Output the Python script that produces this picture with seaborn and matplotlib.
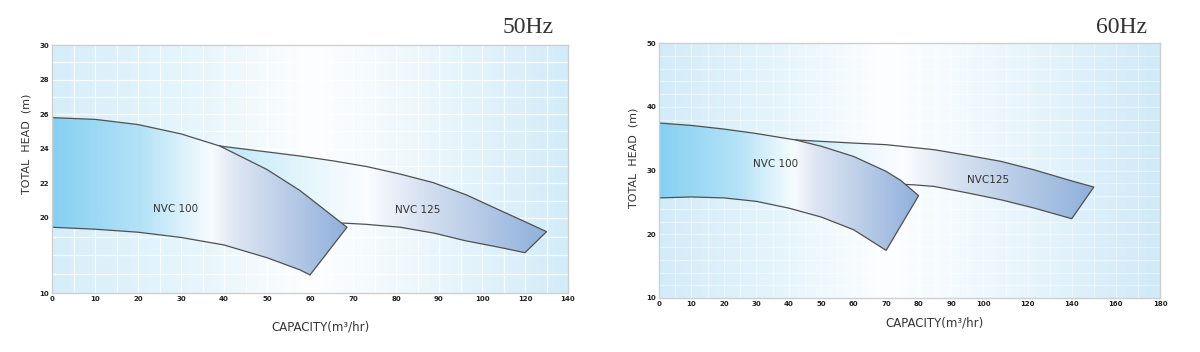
import numpy as np
import matplotlib
matplotlib.use("Agg")
import matplotlib.pyplot as plt
import seaborn as sns
from matplotlib.colors import LinearSegmentedColormap
from matplotlib.ticker import FixedLocator

# ---- data ----
# 50 Hz
hz50_nvc100_top_x = [0, 10, 20, 30, 39, 50, 57.7, 68.6]
hz50_nvc100_top_y = [25.8, 25.7, 25.4, 24.86, 24.16, 22.8, 21.58, 18.76]
hz50_nvc100_bot_x = [0, 10, 20, 30, 40, 50, 57.7, 60]
hz50_nvc100_bot_y = [18.76, 18.5, 18.1, 17.4, 16.4, 14.7, 13.07, 12.4]
hz50_nvc125_top_x = [39, 57.7, 65.4, 73.2, 80.9, 88.7, 96.4, 108, 120, 130]
hz50_nvc125_top_y = [24.16, 23.58, 23.3, 22.97, 22.54, 22.04, 21.33, 20.46, 19.5, 18.17]
hz50_nvc125_bot_x = [66, 73, 81, 89, 96, 108, 120]
hz50_nvc125_bot_y = [19.37, 19.15, 18.76, 17.96, 16.98, 16.09, 15.37]

# 60 Hz
hz60_nvc100_top_x = [0, 10, 20, 30, 42, 50, 60, 70, 74.5, 80]
hz60_nvc100_top_y = [37.45, 37.07, 36.5, 35.8, 34.8, 33.8, 32.2, 29.86, 28.45, 26.05]
hz60_nvc100_bot_x = [0, 10, 20, 30, 40, 50, 60, 70]
hz60_nvc100_bot_y = [25.7, 25.85, 25.7, 25.16, 24.1, 22.7, 20.7, 17.47]
hz60_nvc125_top_x = [42, 50, 60, 70, 84.8, 95.2, 108, 123, 138, 150]
hz60_nvc125_top_y = [34.8, 34.57, 34.3, 34.05, 33.26, 32.37, 31.43, 30.1, 28.56, 27.4]
hz60_nvc125_bot_x = [72, 78.6, 84.8, 95.2, 108, 123, 140]
hz60_nvc125_bot_y = [27.9, 27.75, 27.5, 26.47, 25.4, 24.1, 22.44]

hz50_xticks = [0, 10, 20, 30, 40, 50, 60, 70, 80, 90, 100, 120, 140]
hz50_yticks = [10, 20, 22, 24, 26, 28, 30]
hz60_xticks = [0, 10, 20, 30, 40, 50, 60, 70, 80, 90, 100, 120, 140, 160, 180]
hz60_yticks = [10, 20, 30, 40, 50]

CYAN = "#86d0f2"
LCYAN = "#bde7f9"
BLUE = "#8fb0db"
EDGE = "#505050"


def piecewise(brk, ratio, compress_above=True):
    if compress_above:
        fwd = lambda v: np.where(np.asarray(v) <= brk, v, brk + (np.asarray(v) - brk) * ratio)
        inv = lambda u: np.where(np.asarray(u) <= brk, u, brk + (np.asarray(u) - brk) / ratio)
    else:
        fwd = lambda v: np.where(np.asarray(v) >= brk, v, brk - (brk - np.asarray(v)) * ratio)
        inv = lambda u: np.where(np.asarray(u) >= brk, u, brk - (brk - np.asarray(u)) / ratio)
    return fwd, inv


def gradient(ax, x0, x1, colors, stops, z, clip=None):
    cmap = LinearSegmentedColormap.from_list("g", list(zip(stops, colors)))
    grad = np.linspace(0, 1, 512).reshape(1, -1)
    im = ax.imshow(grad, cmap=cmap, extent=(x0, x1, 0, 1), transform=ax.transAxes,
                   aspect="auto", zorder=z, interpolation="bilinear")
    if clip is not None:
        im.set_clip_path(clip)


def band(ax, tx, ty, bx, by, colors, stops, z):
    xs = list(tx) + list(bx)[::-1]
    ys = list(ty) + list(by)[::-1]
    poly = ax.fill(xs, ys, facecolor="none", edgecolor="none", zorder=z)[0]
    pts = ax.transAxes.inverted().transform(ax.transData.transform(np.column_stack([xs, ys])))
    gradient(ax, pts[:, 0].min(), pts[:, 0].max(), colors, stops, z, clip=poly)
    sns.lineplot(x=xs + [xs[0]], y=ys + [ys[0]], ax=ax, sort=False, estimator=None,
                 color=EDGE, lw=0.9, zorder=z + 0.5)


def setup(ax, xlim, ylim, xticks, yticks, xminor, yminor, grid_alpha):
    ax.set_xlim(*xlim)
    ax.set_ylim(*ylim)
    ax.set_xticks(xticks)
    ax.set_yticks(yticks)
    ax.set_xticklabels([str(t) for t in xticks])
    ax.set_yticklabels([str(t) for t in yticks])
    ax.xaxis.set_minor_locator(FixedLocator(xminor))
    ax.yaxis.set_minor_locator(FixedLocator(yminor))
    ax.tick_params(which="both", length=0, labelsize=5, pad=2, colors="#222222")
    for lab in ax.get_xticklabels() + ax.get_yticklabels():
        lab.set_fontweight("bold")
    ax.grid(which="both", color="white", lw=0.9, alpha=grid_alpha, zorder=0.5)
    ax.set_axisbelow(True)
    for sp in ax.spines.values():
        sp.set_color("#cfcfcf")
        sp.set_linewidth(1)
        sp.set_zorder(10)
    ax.set_xlabel("")
    ax.set_ylabel("")


sns.set_style("white")
fig = plt.figure(figsize=(12, 3.52), dpi=100)

# ---- 50 Hz ----
ax1 = fig.add_axes([52 / 1200, 59 / 352, 516 / 1200, 248 / 352])
fx, ix = piecewise(100, 0.5, True)
fy, iy = piecewise(20, 0.434, False)
ax1.set_xscale("function", functions=(fx, ix))
ax1.set_yscale("function", functions=(fy, iy))
ax1.set_xlim(0, 140)
ax1.set_ylim(10, 30)
gradient(ax1, 0, 1, ["#d6eefa", "#e8f6fc", "#fdfeff", "#f6fbfe", "#d2ecf9"],
         [0, 0.3, 0.5, 0.6, 1], 0)
band(ax1, hz50_nvc125_top_x, hz50_nvc125_top_y, hz50_nvc125_bot_x, hz50_nvc125_bot_y,
     [LCYAN, "#e4f5fc", "#fbfdff", "#d6e1f1", BLUE], [0, 0.25, 0.45, 0.62, 1], 2)
band(ax1, hz50_nvc100_top_x, hz50_nvc100_top_y, hz50_nvc100_bot_x, hz50_nvc100_bot_y,
     [CYAN, "#b3e2f7", "#f7fcfe", "#dfe6f3", BLUE], [0, 0.3, 0.54, 0.62, 1], 4)
ax1.text(28.8, 20.5, "NVC 100", fontsize=7.5, color="#333333", ha="center", va="center", zorder=8)
ax1.text(85, 20.46, "NVC 125", fontsize=7.5, color="#333333", ha="center", va="center", zorder=8)
setup(ax1, (0, 140), (10, 30), hz50_xticks, hz50_yticks,
      list(range(0, 100, 5)) + [100, 110, 120, 130, 140],
      [12.5, 15, 17.5] + list(range(20, 31)), 0.85)

# ---- 60 Hz ----
ax2 = fig.add_axes([659 / 1200, 54 / 352, 501 / 1200, 255 / 352])
gx, jx = piecewise(100, 0.68, True)
ax2.set_xscale("function", functions=(gx, jx))
ax2.set_xlim(0, 180)
ax2.set_ylim(10, 50)
gradient(ax2, 0, 1, ["#d3ecf9", "#e6f5fc", "#fdfeff", "#f3fafe", "#d0eaf8"],
         [0, 0.25, 0.45, 0.6, 1], 0)
band(ax2, hz60_nvc125_top_x, hz60_nvc125_top_y, hz60_nvc125_bot_x, hz60_nvc125_bot_y,
     [LCYAN, "#e8f6fc", "#fbfdff", "#d6e1f1", BLUE], [0, 0.2, 0.36, 0.55, 1], 2)
band(ax2, hz60_nvc100_top_x, hz60_nvc100_top_y, hz60_nvc100_bot_x, hz60_nvc100_bot_y,
     [CYAN, "#b3e2f7", "#f7fcfe", "#dfe6f3", BLUE], [0, 0.3, 0.52, 0.6, 1], 4)
ax2.text(36, 31.07, "NVC 100", fontsize=7.5, color="#333333", ha="center", va="center", zorder=8)
ax2.text(102, 28.56, "NVC125", fontsize=7.5, color="#333333", ha="center", va="center", zorder=8)
setup(ax2, (0, 180), (10, 50), hz60_xticks, hz60_yticks,
      list(range(0, 100, 5)) + list(range(100, 190, 10)),
      list(range(10, 52, 2)), 0.45)

# ---- titles and axis captions ----
serif = ["Liberation Serif", "DejaVu Serif"]
fig.text(554 / 1200, 1 - 33 / 352, "50Hz", fontsize=17, family=serif, color="#333333",
         ha="right", va="baseline")
fig.text(1147 / 1200, 1 - 33 / 352, "60Hz", fontsize=17, family=serif, color="#333333",
         ha="right", va="baseline")
for xpos, ypos in [(27, 144), (633, 158)]:
    fig.text(xpos / 1200, 1 - ypos / 352, "TOTAL  HEAD  (m)", rotation=90, fontsize=8,
             color="#333333", ha="center", va="center")
for xpos, ypos in [(321, 327), (935, 323)]:
    fig.text(xpos / 1200, 1 - ypos / 352, "CAPACITY(m³/hr)", fontsize=8.5,
             color="#333333", ha="center", va="center")

fig.savefig("out.png", dpi=100)
